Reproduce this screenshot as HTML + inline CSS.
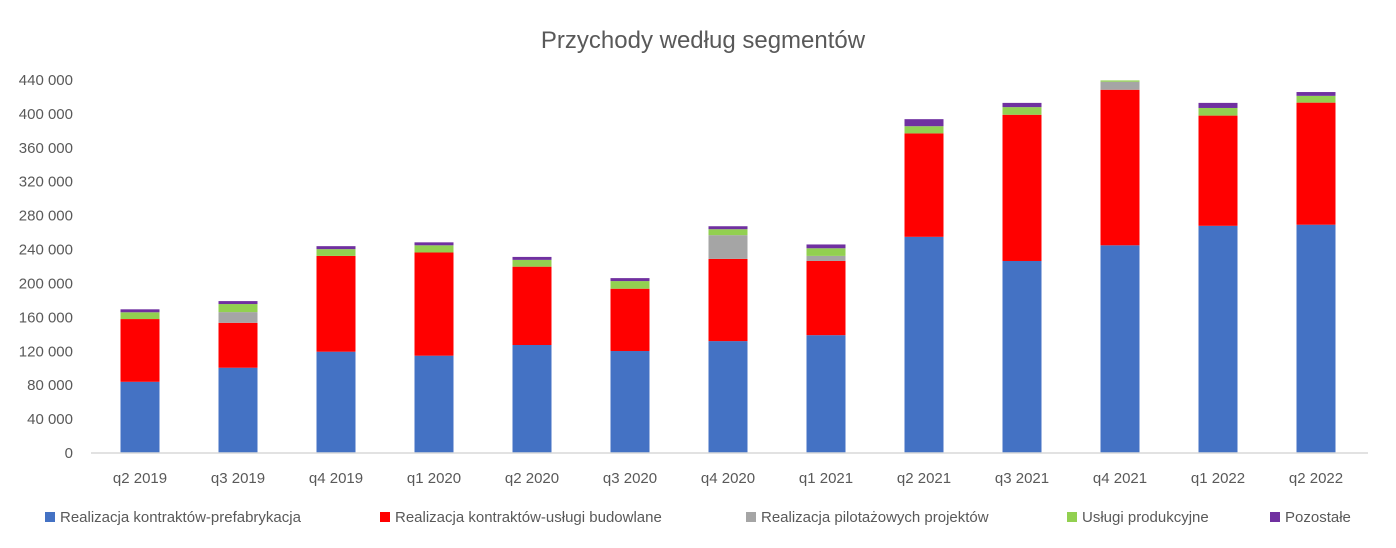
<!DOCTYPE html>
<html><head><meta charset="utf-8"><style>
body{margin:0;background:#fff;font-family:"Liberation Sans",sans-serif;}
svg text{font-family:"Liberation Sans",sans-serif;fill:#595959;}
</style></head><body>
<svg id="chart" width="1396" height="543">
<text x="703" y="48" text-anchor="middle" font-size="24">Przychody według segmentów</text>
<g id="bars"></g><g id="yticks"></g><g id="xticks"></g>
<line x1="91" y1="453" x2="1368" y2="453" stroke="#d9d9d9" stroke-width="1.5"/>
<g id="legend"></g>
</svg>
<script>
const categories=["q2 2019","q3 2019","q4 2019","q1 2020","q2 2020","q3 2020","q4 2020","q1 2021","q2 2021","q3 2021","q4 2021","q1 2022","q2 2022"];
const prefab=[84000,100600,119500,114800,127400,120300,132000,139000,255000,226500,245000,268000,269300];
const budowlane=[74000,53000,113000,121700,92400,73500,97000,87500,122000,172500,183500,130000,144000];
const pilotaz=[0,12600,0,0,0,0,28000,6000,0,0,9500,0,0];
const uslugi=[8000,9500,8000,8500,8000,9000,7000,9000,8500,9000,1500,9000,8000];
const pozostale=[3500,3500,3500,3500,3500,3500,3500,4500,8300,5000,0,6000,4500];
const yTicks=[0,40000,80000,120000,160000,200000,240000,280000,320000,360000,400000,440000];
const seriesNames=["Realizacja kontraktów-prefabrykacja","Realizacja kontraktów-usługi budowlane","Realizacja pilotażowych projektów","Usługi produkcyjne","Pozostałe"];
const colors=["#4472c4","#ff0000","#a5a5a5","#92d050","#7030a0"];
const series=[prefab,budowlane,pilotaz,uslugi,pozostale];
const NS="http://www.w3.org/2000/svg";
const y0=453,yTop=80,maxV=440000,left=91,step=98,bw=39;
function yPx(v){return y0-(v/maxV)*(y0-yTop);}
function xC(i){return left+step*(i+0.5);}
function fmt(v){return v===0?"0":String(v).replace(/\B(?=(\d{3})+(?!\d))/g," ");}
const gb=document.getElementById("bars");
categories.forEach((c,i)=>{let cum=0;series.forEach((s,k)=>{const v=s[i];if(v<=0)return;
const r=document.createElementNS(NS,"rect");
r.setAttribute("x",xC(i)-bw/2);r.setAttribute("y",yPx(cum+v));r.setAttribute("width",bw);r.setAttribute("height",yPx(cum)-yPx(cum+v));r.setAttribute("fill",colors[k]);


gb.appendChild(r);cum+=v;});
const t=document.createElementNS(NS,"text");t.setAttribute("x",xC(i));t.setAttribute("y",483);t.setAttribute("text-anchor","middle");t.setAttribute("font-size","15");t.textContent=c;


document.getElementById("xticks").appendChild(t);});
yTicks.forEach(v=>{const t=document.createElementNS(NS,"text");t.setAttribute("x",73);t.setAttribute("y",yPx(v)+5);t.setAttribute("text-anchor","end");t.setAttribute("font-size","15");t.textContent=fmt(v);


document.getElementById("yticks").appendChild(t);});
const lx=[45,380,746,1067,1270];
seriesNames.forEach((n,k)=>{const r=document.createElementNS(NS,"rect");r.setAttribute("x",lx[k]);r.setAttribute("y",512);r.setAttribute("width",10);r.setAttribute("height",10);r.setAttribute("fill",colors[k]);


document.getElementById("legend").appendChild(r);
const t=document.createElementNS(NS,"text");t.setAttribute("x",lx[k]+15);t.setAttribute("y",522);t.setAttribute("font-size","15");t.textContent=n;


document.getElementById("legend").appendChild(t);});
</script>
</body></html>
